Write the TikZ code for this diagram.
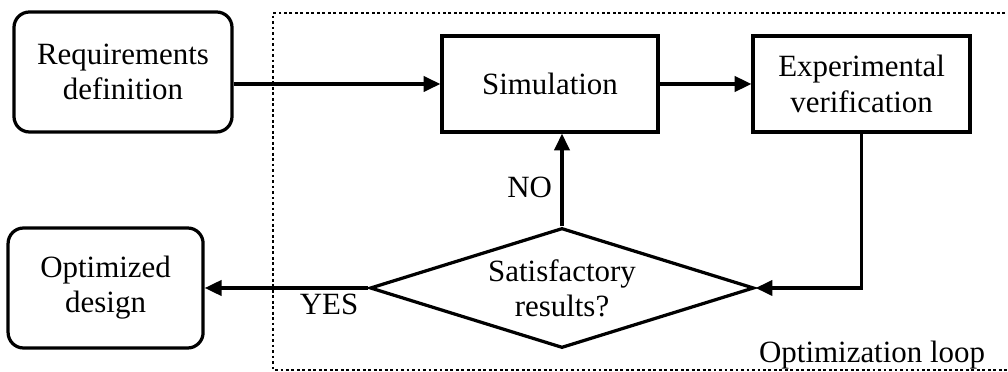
\documentclass[tikz,border=0pt]{standalone}
\usepackage{fontspec}
\setmainfont{Liberation Serif}
\usepackage{tikz}
\usetikzlibrary{arrows.meta,shapes.geometric}

\begin{document}
\begin{tikzpicture}[
  x=1cm, y=1cm,
  font=\fontsize{22}{25}\selectfont,
  box/.style={draw=black, line width=2.3pt, align=center, inner sep=2pt},
  roundbox/.style={box, rounded corners=11pt},
  decision/.style={diamond, draw=black, line width=2.3pt, align=center,
    aspect=3.2, inner sep=0pt, minimum width=9.6cm, minimum height=3cm},
  flow/.style={-{Triangle[length=4.2mm,width=3.8mm]}, line width=2.3pt, draw=black},
  loopframe/.style={draw=black, line width=2pt, dash pattern=on 2pt off 1.9pt},
  label/.style={inner sep=3pt}
]
\useasboundingbox (0,0) rectangle (25.2,9.3);

% Optimization loop frame, open towards the right page edge.
\coordinate (frameNE) at (25.4,8.975);
\coordinate (frameSE) at (25.4,0.05);
\draw[loopframe] (frameNE) -- (6.825,8.975) -- (6.825,0.05) -- (frameSE);
\node[anchor=base east] (loopLabel) at (24.75,0.225) {Optimization loop};

% Start and end of the process.
\node[roundbox, minimum width=5.45cm, minimum height=3cm] (req) at (3.075,7.5)
  {Requirements\\definition};
\node[roundbox, minimum width=4.875cm, minimum height=3cm] (opt) at (2.64,2.1)
  {Optimized\\design};

% Inside the loop.
\node[box, minimum width=5.4cm, minimum height=2.4cm] (sim) at (13.75,7.2)
  {Simulation};
\node[box, minimum width=5.425cm, minimum height=2.4cm] (exp) at (21.54,7.2)
  {Experimental\\verification};
\node[decision] (dec) at (14.05,2.1)
  {Satisfactory\\results?};

\draw[flow] (req.east |- sim.west) -- (sim.west);
\draw[flow] (sim) -- (exp);
\draw[flow] (exp.south) |- (dec.east);
\draw[flow] (dec.north) -- node[pos=.42, left, label, xshift=-3pt]{NO} (dec.north |- sim.south);
\draw[flow] (dec.west) -- node[pos=.24, below, label]{YES} (opt.east);
\end{tikzpicture}
\end{document}
